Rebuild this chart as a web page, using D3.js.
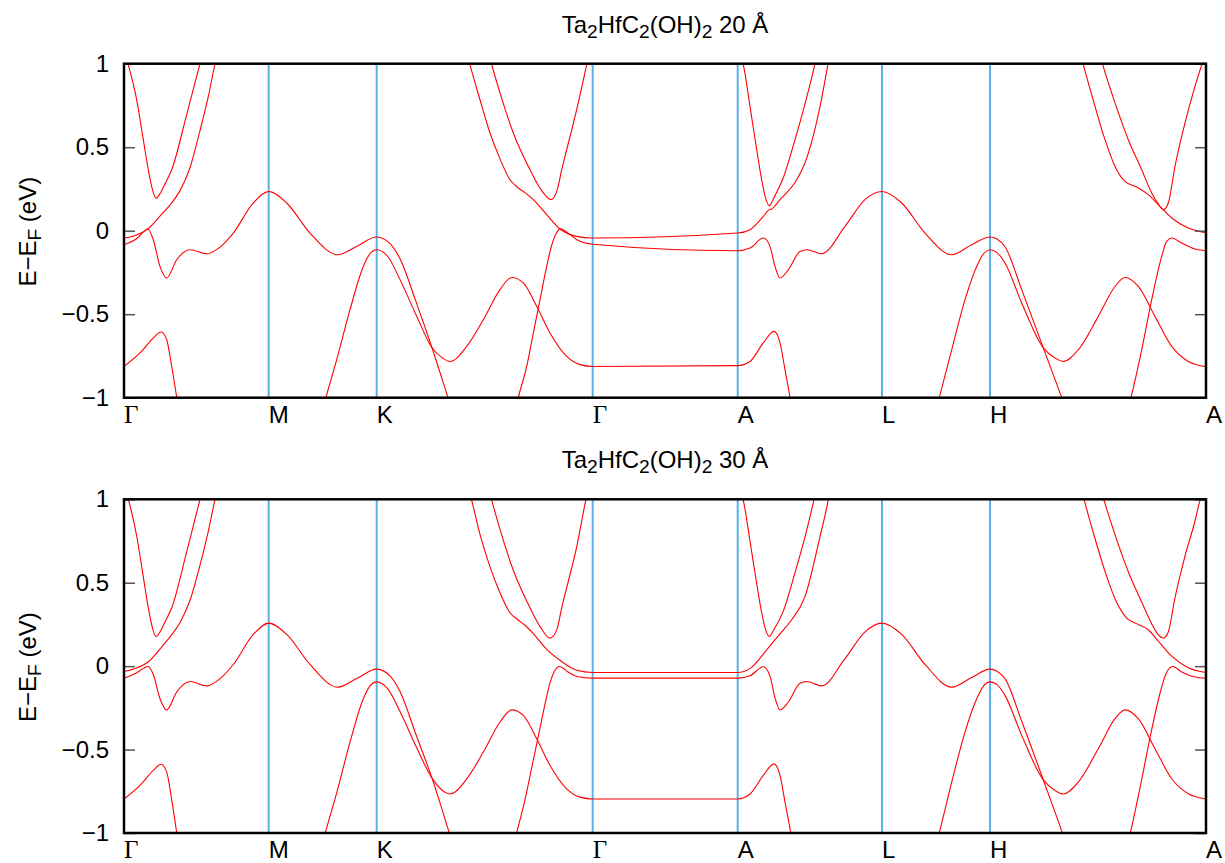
<!DOCTYPE html>
<html>
<head>
<meta charset="utf-8">
<script src="https://cdn.jsdelivr.net/npm/d3@7"></script>
<style>
body { margin: 0; background: #fff; }
text { font-family: "Liberation Sans", Arial, Helvetica, sans-serif; fill: #000; }
</style>
</head>
<body>
<svg id="chart"></svg>
<script>
// k-path (arbitrary path length) and energy ticks
const kTicks = [0, 1.447, 2.527, 4.687, 6.137, 7.58, 8.66, 10.82];
const kLabels = ['Γ', 'M', 'K', 'Γ', 'A', 'L', 'H', 'A'];
const eTicks = [-1, -0.5, 0, 0.5, 1];
const vacuum = ['20 Å', '30 Å'];

// bands, 20 A vacuum : [k, E-EF]
const band20_1 = [[0,1.084],[0.04,1.0],[0.127,0.784],[0.193,0.545],[0.243,0.365],[0.28,0.257],[0.32,0.195],[0.36,0.222],[0.41,0.281],[0.477,0.365],[0.627,0.695],[0.76,1.0],[0.82,1.144]];
const band20_2 = [[0,-0.044],[0.12,-0.027],[0.24,0.012],[0.39,0.108],[0.48,0.168],[0.56,0.240],[0.66,0.377],[0.76,0.599],[0.84,0.796],[0.91,1.0],[0.96,1.132]];
const band20_3 = [[0,-0.084],[0.12,-0.051],[0.24,0.009],[0.293,-0.054],[0.36,-0.214],[0.427,-0.283],[0.527,-0.174],[0.66,-0.114],[0.827,-0.138],[0.96,-0.098],[1.093,-0.014],[1.293,0.166],[1.447,0.235],[1.627,0.166],[1.86,-0.014],[2.137,-0.144],[2.327,-0.094],[2.527,-0.038],[2.66,-0.078],[2.76,-0.168],[2.92,-0.425],[3.08,-0.701],[3.24,-1.0],[3.31,-1.132]];
const band20_4 = [[0,-0.813],[0.16,-0.732],[0.293,-0.643],[0.37,-0.607],[0.427,-0.653],[0.477,-0.813],[0.527,-0.998],[0.56,-1.132]];
const band20_5 = [[1.96,-1.132],[2.02,-0.998],[2.127,-0.772],[2.26,-0.473],[2.393,-0.214],[2.46,-0.138],[2.527,-0.114],[2.64,-0.156],[2.76,-0.293],[2.92,-0.503],[3.08,-0.701],[3.18,-0.760],[3.26,-0.783],[3.427,-0.693],[3.593,-0.533],[3.76,-0.353],[3.877,-0.280],[3.993,-0.313],[4.127,-0.453],[4.26,-0.613],[4.427,-0.753],[4.56,-0.802],[4.687,-0.813],[6.137,-0.808],[6.26,-0.783],[6.393,-0.672],[6.5,-0.603],[6.56,-0.672],[6.61,-0.832],[6.66,-0.998],[6.70,-1.132]];
const band20_6 = [[3.41,1.114],[3.46,0.994],[3.56,0.784],[3.66,0.585],[3.76,0.43],[3.86,0.305],[3.94,0.257],[4.01,0.228],[4.093,0.186],[4.227,0.096],[4.36,0.010],[4.527,-0.034],[4.687,-0.044],[6.137,-0.014],[6.26,0.006],[6.393,0.086],[6.443,0.122],[6.477,0.130],[6.56,0.186],[6.727,0.305],[6.81,0.407],[6.96,0.743],[7.04,1.0],[7.08,1.144]];
const band20_7 = [[3.62,1.114],[3.677,0.994],[3.76,0.825],[3.893,0.585],[4.06,0.365],[4.17,0.246],[4.27,0.186],[4.33,0.240],[4.377,0.365],[4.427,0.485],[4.527,0.725],[4.627,0.994],[4.67,1.114]];
const band20_8 = [[3.89,-1.132],[3.943,-0.998],[4.027,-0.813],[4.093,-0.613],[4.16,-0.413],[4.227,-0.214],[4.27,-0.102],[4.32,-0.018],[4.37,0.012],[4.44,-0.015],[4.53,-0.054],[4.687,-0.081],[6.137,-0.120],[6.26,-0.104],[6.393,-0.044],[6.46,-0.094],[6.51,-0.214],[6.56,-0.283],[6.643,-0.234],[6.76,-0.124],[6.827,-0.114],[6.977,-0.138],[7.21,0.026],[7.41,0.186],[7.58,0.235],[7.777,0.166],[8.01,-0.014],[8.277,-0.144],[8.477,-0.084],[8.66,-0.038],[8.73,-0.05],[8.81,-0.096],[8.977,-0.353],[9.193,-0.702],[9.377,-0.998],[9.46,-1.132]];
const band20_9 = [[8.09,-1.132],[8.153,-0.998],[8.277,-0.713],[8.41,-0.413],[8.543,-0.193],[8.60,-0.135],[8.66,-0.114],[8.73,-0.131],[8.81,-0.193],[8.977,-0.433],[9.193,-0.702],[9.31,-0.762],[9.393,-0.783],[9.543,-0.713],[9.743,-0.513],[9.91,-0.334],[10.01,-0.280],[10.143,-0.334],[10.31,-0.513],[10.477,-0.693],[10.643,-0.783],[10.82,-0.814]];
const band20_10 = [[10.01,-1.132],[10.07,-0.998],[10.177,-0.713],[10.277,-0.413],[10.377,-0.154],[10.427,-0.064],[10.477,-0.044],[10.577,-0.074],[10.71,-0.110],[10.82,-0.120]];
const band20_11 = [[9.54,1.114],[9.593,0.994],[9.71,0.744],[9.81,0.545],[9.91,0.385],[10.01,0.295],[10.143,0.256],[10.243,0.216],[10.343,0.156],[10.477,0.076],[10.643,0.016],[10.82,-0.012]];
const band20_12 = [[9.73,1.114],[9.787,0.994],[9.91,0.765],[10.043,0.545],[10.177,0.365],[10.277,0.226],[10.34,0.162],[10.393,0.126],[10.443,0.166],[10.51,0.385],[10.61,0.645],[10.71,0.864],[10.777,0.994],[10.82,1.084]];
const band20_13 = [[6.137,1.084],[6.193,0.994],[6.26,0.744],[6.327,0.485],[6.377,0.305],[6.415,0.198],[6.453,0.150],[6.50,0.198],[6.593,0.317],[6.71,0.545],[6.81,0.760],[6.91,1.0],[6.95,1.114]];

// bands, 30 A vacuum
const band30_1 = [[0,1.084],[0.043,1.0],[0.127,0.78],[0.193,0.535],[0.243,0.35],[0.28,0.24],[0.32,0.177],[0.36,0.205],[0.41,0.265],[0.477,0.35],[0.627,0.685],[0.76,1.0],[0.82,1.144]];
const band30_2 = [[0,-0.032],[0.12,-0.012],[0.24,0.025],[0.39,0.125],[0.48,0.19],[0.56,0.262],[0.66,0.395],[0.76,0.605],[0.84,0.80],[0.91,1.0],[0.96,1.132]];
const band30_3 = [[0,-0.072],[0.12,-0.042],[0.24,-0.002],[0.293,-0.05],[0.36,-0.195],[0.427,-0.262],[0.527,-0.155],[0.66,-0.092],[0.827,-0.118],[0.96,-0.075],[1.093,0.01],[1.293,0.19],[1.447,0.258],[1.627,0.19],[1.86,0.01],[2.137,-0.126],[2.327,-0.074],[2.527,-0.018],[2.66,-0.058],[2.76,-0.152],[2.92,-0.41],[3.08,-0.671],[3.253,-1.0],[3.32,-1.132]];
const band30_4 = [[0,-0.796],[0.16,-0.715],[0.293,-0.625],[0.37,-0.588],[0.427,-0.635],[0.477,-0.80],[0.527,-0.998],[0.56,-1.132]];
const band30_5 = [[1.953,-1.132],[2.013,-0.998],[2.127,-0.76],[2.26,-0.455],[2.393,-0.195],[2.46,-0.118],[2.527,-0.094],[2.64,-0.138],[2.76,-0.272],[2.92,-0.48],[3.08,-0.671],[3.18,-0.742],[3.26,-0.766],[3.427,-0.676],[3.593,-0.515],[3.76,-0.335],[3.877,-0.262],[3.993,-0.295],[4.127,-0.435],[4.26,-0.595],[4.427,-0.735],[4.56,-0.785],[4.687,-0.796],[6.137,-0.796],[6.26,-0.766],[6.393,-0.655],[6.5,-0.586],[6.56,-0.655],[6.61,-0.815],[6.667,-0.998],[6.70,-1.132]];
const band30_6 = [[3.42,1.114],[3.477,0.994],[3.56,0.79],[3.66,0.595],[3.76,0.44],[3.86,0.32],[3.94,0.278],[4.01,0.245],[4.093,0.195],[4.227,0.10],[4.36,0.035],[4.527,-0.025],[4.687,-0.038],[6.137,-0.038],[6.26,-0.015],[6.427,0.098],[6.56,0.194],[6.677,0.278],[6.81,0.417],[6.96,0.777],[7.043,1.0],[7.08,1.144]];
const band30_7 = [[3.62,1.114],[3.677,0.994],[3.76,0.82],[3.893,0.575],[4.06,0.35],[4.17,0.228],[4.26,0.168],[4.33,0.222],[4.377,0.35],[4.427,0.47],[4.527,0.715],[4.617,0.994],[4.66,1.114]];
const band30_8 = [[3.87,-1.132],[3.927,-0.998],[4.01,-0.80],[4.08,-0.60],[4.15,-0.40],[4.22,-0.20],[4.265,-0.09],[4.31,-0.025],[4.353,-0.002],[4.44,-0.035],[4.53,-0.062],[4.687,-0.072],[6.137,-0.072],[6.26,-0.058],[6.393,-0.004],[6.46,-0.06],[6.51,-0.19],[6.56,-0.262],[6.643,-0.215],[6.76,-0.102],[6.827,-0.092],[6.977,-0.118],[7.21,0.045],[7.41,0.205],[7.58,0.258],[7.777,0.19],[8.01,0.01],[8.277,-0.126],[8.477,-0.068],[8.66,-0.018],[8.73,-0.03],[8.81,-0.075],[8.977,-0.33],[9.193,-0.682],[9.383,-0.998],[9.46,-1.132]];
const band30_9 = [[8.09,-1.132],[8.153,-0.998],[8.277,-0.695],[8.41,-0.395],[8.543,-0.175],[8.60,-0.115],[8.66,-0.094],[8.73,-0.111],[8.81,-0.175],[8.977,-0.415],[9.193,-0.682],[9.31,-0.745],[9.393,-0.766],[9.543,-0.695],[9.743,-0.495],[9.91,-0.315],[10.01,-0.262],[10.143,-0.315],[10.31,-0.495],[10.477,-0.675],[10.643,-0.765],[10.82,-0.796]];
const band30_10 = [[10.003,-1.132],[10.063,-0.998],[10.17,-0.70],[10.27,-0.40],[10.37,-0.14],[10.42,-0.045],[10.487,-0.002],[10.577,-0.035],[10.71,-0.065],[10.82,-0.072]];
const band30_11 = [[9.55,1.114],[9.603,0.994],[9.72,0.744],[9.82,0.55],[9.92,0.39],[10.027,0.288],[10.143,0.25],[10.243,0.218],[10.343,0.15],[10.477,0.06],[10.643,-0.01],[10.82,-0.038]];
const band30_12 = [[9.74,1.114],[9.80,0.994],[9.92,0.77],[10.05,0.555],[10.18,0.38],[10.28,0.25],[10.34,0.19],[10.393,0.168],[10.443,0.205],[10.51,0.41],[10.61,0.66],[10.71,0.87],[10.76,0.994],[10.82,1.08]];
const band30_13 = [[6.137,1.084],[6.193,0.994],[6.26,0.75],[6.327,0.495],[6.377,0.32],[6.415,0.22],[6.453,0.178],[6.50,0.22],[6.593,0.33],[6.71,0.56],[6.81,0.775],[6.90,1.0],[6.94,1.114]];

const bands20 = [band20_1, band20_2, band20_3, band20_4, band20_5, band20_6, band20_7, band20_8, band20_9, band20_10, band20_11, band20_12, band20_13];
const bands30 = [band30_1, band30_2, band30_3, band30_4, band30_5, band30_6, band30_7, band30_8, band30_9, band30_10, band30_11, band30_12, band30_13];

class BandPlot {
    constructor (config, data) {
        this.config = {
            parent: config.parent,
            id: config.id,
            left: config.left,
            top: config.top,
            width: config.width,
            height: config.height,
            vacuum: config.vacuum
        };
        this.data = data;
        this.init();
    }

    init() {
        let self = this;

        self.chart = self.config.parent.append('g')
            .attr('transform', `translate(${self.config.left}, ${self.config.top})`);

        self.xscale = d3.scaleLinear()
            .domain([kTicks[0], kTicks[kTicks.length - 1]])
            .range([0, self.config.width]);

        self.yscale = d3.scaleLinear()
            .domain([-1, 1])
            .range([self.config.height, 0]);

        self.line = d3.line()
            .x(d => self.xscale(d[0]))
            .y(d => self.yscale(d[1]))
            .curve(d3.curveMonotoneX);

        self.chart.append('clipPath')
            .attr('id', self.config.id)
            .append('rect')
            .attr('width', self.config.width)
            .attr('height', self.config.height);
    }

    render() {
        let self = this;
        const fs = 24;

        // high-symmetry lines
        self.chart.selectAll('line.kline')
            .data(kTicks.slice(1, -1))
            .join('line')
            .attr('class', 'kline')
            .attr('x1', d => self.xscale(d))
            .attr('x2', d => self.xscale(d))
            .attr('y1', 0)
            .attr('y2', self.config.height)
            .attr('stroke', '#56b4e9')
            .attr('stroke-width', 2);

        // bands
        self.chart.append('g')
            .attr('clip-path', `url(#${self.config.id})`)
            .selectAll('path')
            .data(self.data)
            .join('path')
            .attr('d', d => self.line(d))
            .attr('fill', 'none')
            .attr('stroke', '#ff0000')
            .attr('stroke-width', 1.1);

        // y axis, left and mirrored right
        const yaxis = d3.axisLeft(self.yscale)
            .tickValues(eTicks)
            .tickFormat(d3.format('~g'))
            .tickSize(-11)
            .tickPadding(15);
        const ygroup = self.chart.append('g').call(yaxis);
        ygroup.select('.domain').remove();
        ygroup.selectAll('line').attr('stroke', '#555').attr('stroke-width', 1.5);
        ygroup.selectAll('text')
            .style('font-family', '"Liberation Sans", Arial, sans-serif')
            .style('font-size', fs + 'px')
            .attr('fill', '#000');

        const yaxis2 = d3.axisRight(self.yscale)
            .tickValues(eTicks)
            .tickFormat('')
            .tickSize(-11);
        const ygroup2 = self.chart.append('g')
            .attr('transform', `translate(${self.config.width}, 0)`)
            .call(yaxis2);
        ygroup2.select('.domain').remove();
        ygroup2.selectAll('line').attr('stroke', '#555').attr('stroke-width', 1.5);

        // k labels
        self.chart.selectAll('text.klabel')
            .data(kTicks)
            .join('text')
            .attr('class', 'klabel')
            .attr('x', d => self.xscale(d))
            .attr('y', self.config.height + 25.5)
            .attr('text-anchor', 'start')
            .style('font-size', (d, i) => (kLabels[i] === 'Γ' ? 25 : fs) + 'px')
            .style('font-family', (d, i) => kLabels[i] === 'Γ' ? '"Liberation Serif", "Times New Roman", serif' : null)
            .text((d, i) => kLabels[i]);

        // y label
        const ylab = self.chart.append('text')
            .attr('transform', `translate(${-88}, ${self.config.height / 2 + 1}) rotate(-90)`)
            .attr('text-anchor', 'middle')
            .style('font-size', fs + 'px');
        ylab.append('tspan').text('E−E');
        ylab.append('tspan').attr('dy', 5).style('font-size', (fs * 0.8) + 'px').text('F');
        ylab.append('tspan').attr('dy', -5).text(' (eV)');

        // title
        const title = self.chart.append('text')
            .attr('x', self.config.width / 2)
            .attr('y', -31)
            .attr('text-anchor', 'middle')
            .style('font-size', fs + 'px');
        const parts = [['Ta', 0], ['2', 1], ['HfC', 0], ['2', 1], ['(OH)', 0], ['2', 1], [' ' + self.config.vacuum, 0]];
        let prev = 0;
        parts.forEach(p => {
            const shift = p[1] ? 5 : 0;
            title.append('tspan')
                .attr('dy', shift - prev)
                .style('font-size', p[1] ? (fs * 0.8) + 'px' : null)
                .text(p[0]);
            prev = shift;
        });

        // frame
        self.chart.append('rect')
            .attr('width', self.config.width)
            .attr('height', self.config.height)
            .attr('fill', 'none')
            .attr('stroke', '#000')
            .attr('stroke-width', 2.5);
    }
}

const svg = d3.select('#chart')
    .attr('width', 1225)
    .attr('height', 863);
svg.append('rect').attr('width', 1225).attr('height', 863).attr('fill', '#fff');

const plot20 = new BandPlot({parent: svg, id: 'clip20', left: 124, top: 63.7, width: 1082, height: 334, vacuum: vacuum[0]}, bands20);
plot20.render();
const plot30 = new BandPlot({parent: svg, id: 'clip30', left: 124, top: 499.3, width: 1082, height: 333.7, vacuum: vacuum[1]}, bands30);
plot30.render();
</script>
</body>
</html>
